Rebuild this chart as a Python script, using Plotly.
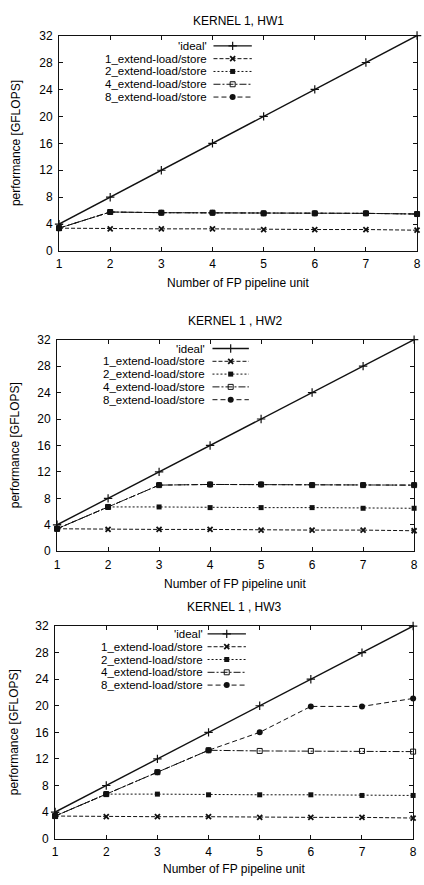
import plotly.graph_objects as go

W, H = 424, 885

# ---------------- data ----------------
units = [1, 2, 3, 4, 5, 6, 7, 8]
y_ticks = [0, 4, 8, 12, 16, 20, 24, 28, 32]
series_names = ["'ideal'", "1_extend-load/store", "2_extend-load/store",
                "4_extend-load/store", "8_extend-load/store"]
titles = ["KERNEL 1, HW1", "KERNEL 1 , HW2", "KERNEL 1 , HW3"]

ideal = [4, 8, 12, 16, 20, 24, 28, 32]

hw1_ext1 = [3.4, 3.3, 3.3, 3.3, 3.2, 3.2, 3.2, 3.1]
hw1_ext2 = [3.4, 5.8, 5.7, 5.7, 5.6, 5.6, 5.6, 5.5]
hw1_ext4 = [3.4, 5.8, 5.7, 5.7, 5.6, 5.6, 5.6, 5.5]
hw1_ext8 = [3.4, 5.8, 5.7, 5.7, 5.6, 5.6, 5.6, 5.5]

hw2_ext1 = [3.4, 3.3, 3.3, 3.3, 3.2, 3.2, 3.2, 3.1]
hw2_ext2 = [3.4, 6.7, 6.7, 6.6, 6.6, 6.6, 6.5, 6.5]
hw2_ext4 = [3.4, 6.7, 10.0, 10.1, 10.1, 10.0, 10.0, 10.0]
hw2_ext8 = [3.4, 6.7, 10.0, 10.1, 10.1, 10.0, 10.0, 10.0]

hw3_ext1 = [3.4, 3.3, 3.3, 3.3, 3.2, 3.2, 3.2, 3.1]
hw3_ext2 = [3.4, 6.7, 6.7, 6.6, 6.6, 6.6, 6.5, 6.5]
hw3_ext4 = [3.4, 6.7, 10.0, 13.3, 13.2, 13.2, 13.2, 13.1]
hw3_ext8 = [3.4, 6.7, 10.0, 13.3, 16.0, 19.9, 19.9, 21.1]

panels_data = [
    [ideal, hw1_ext1, hw1_ext2, hw1_ext4, hw1_ext8],
    [ideal, hw2_ext1, hw2_ext2, hw2_ext4, hw2_ext8],
    [ideal, hw3_ext1, hw3_ext2, hw3_ext4, hw3_ext8],
]

# ---------------- styles ----------------
INK = "#111111"
FONT = "Liberation Sans, Arial, sans-serif"
styles = [
    dict(dash="solid", width=1.4, symbol="cross-thin", size=6, mlw=1.2),
    dict(dash="4px,2px", width=1, symbol="x-thin", size=5, mlw=1.8),
    dict(dash="2px,2px", width=1, symbol="square", size=5, mlw=0),
    dict(dash="7px,2px,2px,2px", width=1, symbol="square-open", size=5, mlw=1),
    dict(dash="5px,3px", width=1, symbol="circle", size=6, mlw=0),
]

# pixel layout of each panel
layout_px = [
    dict(l=57, r=421, t=29, b=248, title_y=14, xt_y=280, yt_x=14,
         leg_r=209, s0=214, s1=253, row0=39.5, step=13),
    dict(l=55, r=418, t=338, b=553, title_y=319, xt_y=586, yt_x=13,
         leg_r=207, s0=213, s1=250, row0=347, step=13),
    dict(l=53, r=417, t=629, b=845, title_y=610, xt_y=876, yt_x=12,
         leg_r=205, s0=208, s1=247, row0=637, step=13),
]

fig = go.Figure()
annotations = []


def px_x(x):
    return x / W


def px_y(y):
    return 1 - y / H


for i, (data, lp) in enumerate(zip(panels_data, layout_px)):
    n = i + 1
    xa = "x" if n == 1 else f"x{n}"
    ya = "y" if n == 1 else f"y{n}"
    for name, vals, st in zip(series_names, data, styles):
        fig.add_trace(go.Scatter(
            x=units, y=vals, name=name, mode="lines+markers",
            xaxis=xa, yaxis=ya, showlegend=False, cliponaxis=False,
            line=dict(color=INK, width=st["width"], dash=st["dash"]),
            marker=dict(symbol=st["symbol"], size=st["size"], color=INK,
                        line=dict(color=INK, width=st["mlw"])),
        ))
    axis_common = dict(
        showline=True, linecolor=INK, linewidth=1, mirror="ticks",
        ticks="inside", ticklen=4, tickcolor=INK, tickwidth=1,
        showgrid=False, zeroline=False, fixedrange=True,
        tickfont=dict(family=FONT, size=12, color="#000"),
        ticklabeloverflow="allow",
    )
    fig.layout[f"xaxis{'' if n == 1 else n}"] = dict(
        axis_common, domain=[px_x(lp["l"]), px_x(lp["r"])], range=[1, 8],
        tickvals=units, anchor=ya, ticklabelstandoff=2,
    )
    fig.layout[f"yaxis{'' if n == 1 else n}"] = dict(
        axis_common, domain=[px_y(lp["b"]), px_y(lp["t"])], range=[0, 32],
        tickvals=y_ticks, anchor=xa, ticklabelstandoff=3,
    )
    annotations.append(dict(text=titles[i], xref="paper", yref="paper",
                            x=px_x((lp["l"] + lp["r"]) / 2), y=px_y(lp["title_y"]),
                            showarrow=False, xanchor="center", yanchor="middle",
                            font=dict(family=FONT, size=12, color="#000")))
    annotations.append(dict(text="Number of FP pipeline unit", xref="paper", yref="paper",
                            x=px_x((lp["l"] + lp["r"]) / 2), y=px_y(lp["xt_y"]),
                            showarrow=False, xanchor="center", yanchor="middle",
                            font=dict(family=FONT, size=12, color="#000")))
    annotations.append(dict(text="performance [GFLOPS]", xref="paper", yref="paper",
                            x=px_x(lp["yt_x"]), y=px_y((lp["t"] + lp["b"]) / 2),
                            showarrow=False, xanchor="center", yanchor="middle",
                            textangle=-90,
                            font=dict(family=FONT, size=12, color="#000")))
    # gnuplot-style key: label text to the left of the line sample
    for k, (name, st) in enumerate(zip(series_names, styles)):
        ry = lp["row0"] + k * lp["step"]
        annotations.append(dict(text=name, xref="x9", yref="y9",
                                x=lp["leg_r"], y=ry, showarrow=False,
                                xanchor="right", yanchor="middle",
                                font=dict(family=FONT, size=11.5, color="#000")))
        mid = (lp["s0"] + lp["s1"]) / 2
        fig.add_trace(go.Scatter(
            x=[lp["s0"], mid, lp["s1"]], y=[ry, ry, ry], mode="lines",
            xaxis="x9", yaxis="y9", showlegend=False, hoverinfo="skip",
            line=dict(color=INK, width=st["width"], dash=st["dash"]),
        ))
        fig.add_trace(go.Scatter(
            x=[mid], y=[ry], mode="markers",
            xaxis="x9", yaxis="y9", showlegend=False, hoverinfo="skip",
            marker=dict(symbol=st["symbol"], size=st["size"], color=INK,
                        line=dict(color=INK, width=st["mlw"])),
        ))

fig.update_layout(
    xaxis9=dict(domain=[0, 1], range=[0, W], visible=False, fixedrange=True, anchor="y9"),
    yaxis9=dict(domain=[0, 1], range=[H, 0], visible=False, fixedrange=True, anchor="x9"),
    width=W, height=H, margin=dict(l=0, r=0, t=0, b=0),
    paper_bgcolor="white", plot_bgcolor="rgba(0,0,0,0)",
    annotations=annotations, showlegend=False,
    font=dict(family=FONT, color="#000"),
)

fig.write_html(
    "out.html",
    config={"displayModeBar": False},
    post_script="document.body.style.margin='0';document.body.style.overflow='hidden';",
)
